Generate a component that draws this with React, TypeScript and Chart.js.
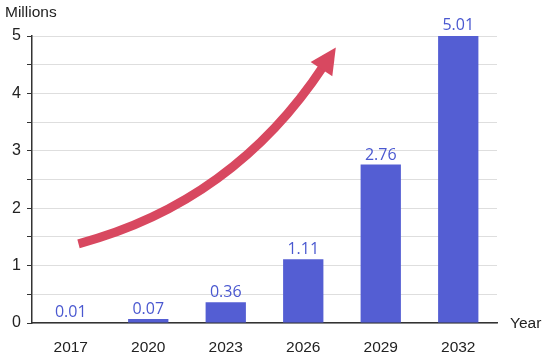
import React, { useEffect, useRef } from "react";
import { Chart, registerables } from "chart.js";

Chart.register(...registerables);

const categories = ["2017", "2020", "2023", "2026", "2029", "2032"];
const values = [0.01, 0.07, 0.36, 1.11, 2.76, 5.01];
const valueLabels = ["0.01", "0.07", "0.36", "1.11", "2.76", "5.01"];
const yAxisTitle = "Millions";
const xAxisTitle = "Year";
// trend arrow in data space: [categoryIndex, value]
const arrowStart = [0.1, 1.38];
const arrowControl = [2.1, 2.1];
const arrowEnd = [3.42, 4.8];

const BAR = "#545ed3";
const LABEL = "#4a58d0";
const ARROW = "#d84860";
const FONT = '"Liberation Sans", Arial, sans-serif';

const overlayPlugin = {
  id: "overlay",
  afterDatasetsDraw(chart: any) {
    const { ctx, chartArea } = chart;
    const xs = chart.scales.x;
    const ys = chart.scales.y;
    const meta = chart.getDatasetMeta(0);
    ctx.save();
    // value labels
    ctx.fillStyle = LABEL;
    ctx.font = '16px "Open Sans", sans-serif';
    ctx.textAlign = "center";
    ctx.textBaseline = "alphabetic";
    meta.data.forEach((bar: any, i: number) => {
      ctx.fillText(valueLabels[i], bar.x, bar.y - 5);
    });
    // arrow
    const px = (p: number[]) => [
      xs.getPixelForValue(p[0]),
      ys.getPixelForValue(p[1]),
    ];
    const s = px(arrowStart);
    const c = px(arrowControl);
    const e = px(arrowEnd);
    const dx = e[0] - c[0];
    const dy = e[1] - c[1];
    const len = Math.hypot(dx, dy);
    const ux = dx / len;
    const uy = dy / len;
    const headLen = 26;
    const headW = 13;
    const be = [e[0] - ux * (headLen - 4), e[1] - uy * (headLen - 4)];
    ctx.strokeStyle = ARROW;
    ctx.lineWidth = 9;
    ctx.lineCap = "butt";
    ctx.beginPath();
    ctx.moveTo(s[0], s[1]);
    ctx.quadraticCurveTo(c[0], c[1], be[0], be[1]);
    ctx.stroke();
    const bx = e[0] - ux * headLen;
    const by = e[1] - uy * headLen;
    ctx.fillStyle = ARROW;
    ctx.beginPath();
    ctx.moveTo(e[0], e[1]);
    ctx.lineTo(bx - uy * headW, by + ux * headW);
    ctx.lineTo(bx + uy * headW, by - ux * headW);
    ctx.closePath();
    ctx.fill();
    // axis titles
    ctx.fillStyle = "#222";
    ctx.font = `15.5px ${FONT}`;
    ctx.textAlign = "left";
    ctx.textBaseline = "middle";
    ctx.fillText(yAxisTitle, 5, 13);
    ctx.fillText(xAxisTitle, chartArea.right + 13, chartArea.bottom + 1);
    ctx.restore();
  },
};

export default function App() {
  const ref = useRef<HTMLCanvasElement>(null);
  useEffect(() => {
    document.body.style.margin = "0";
    const chart = new Chart(ref.current!, {
      type: "bar",
      data: {
        labels: categories,
        datasets: [
          {
            data: values,
            backgroundColor: BAR,
            barPercentage: 0.52,
            categoryPercentage: 1,
          },
        ],
      },
      options: {
        animation: false,
        responsive: false,
        maintainAspectRatio: false,
        layout: { padding: { left: 0, top: 36, right: 53, bottom: 0 } },
        plugins: { legend: { display: false }, tooltip: { enabled: false } },
        scales: {
          x: {
            grid: { display: false, drawTicks: false },
            border: { display: true, color: "#333", width: 1.5 },
            ticks: {
              color: "#222",
              padding: 15,
              font: { family: FONT, size: 15.5 },
            },
            afterFit: (s: any) => {
              s.height = 36;
            },
          },
          y: {
            min: 0,
            max: 5,
            grid: {
              color: "#dedede",
              lineWidth: 1,
              drawTicks: true,
              tickLength: 5,
              tickColor: "#333",
            },
            border: { display: true, color: "#333", width: 1.5 },
            ticks: {
              stepSize: 0.5,
              autoSkip: false,
              color: "#222",
              padding: 6,
              font: { family: FONT, size: 16 },
              callback: (v: any) => (Number(v) % 1 === 0 ? String(v) : ""),
            },
            afterFit: (s: any) => {
              s.width = 32;
            },
          },
        },
      },
      plugins: [overlayPlugin],
    });
    return () => chart.destroy();
  }, []);
  return (
    <div style={{ width: 550, height: 359 }}>
      <canvas ref={ref} width={550} height={359} />
    </div>
  );
}
